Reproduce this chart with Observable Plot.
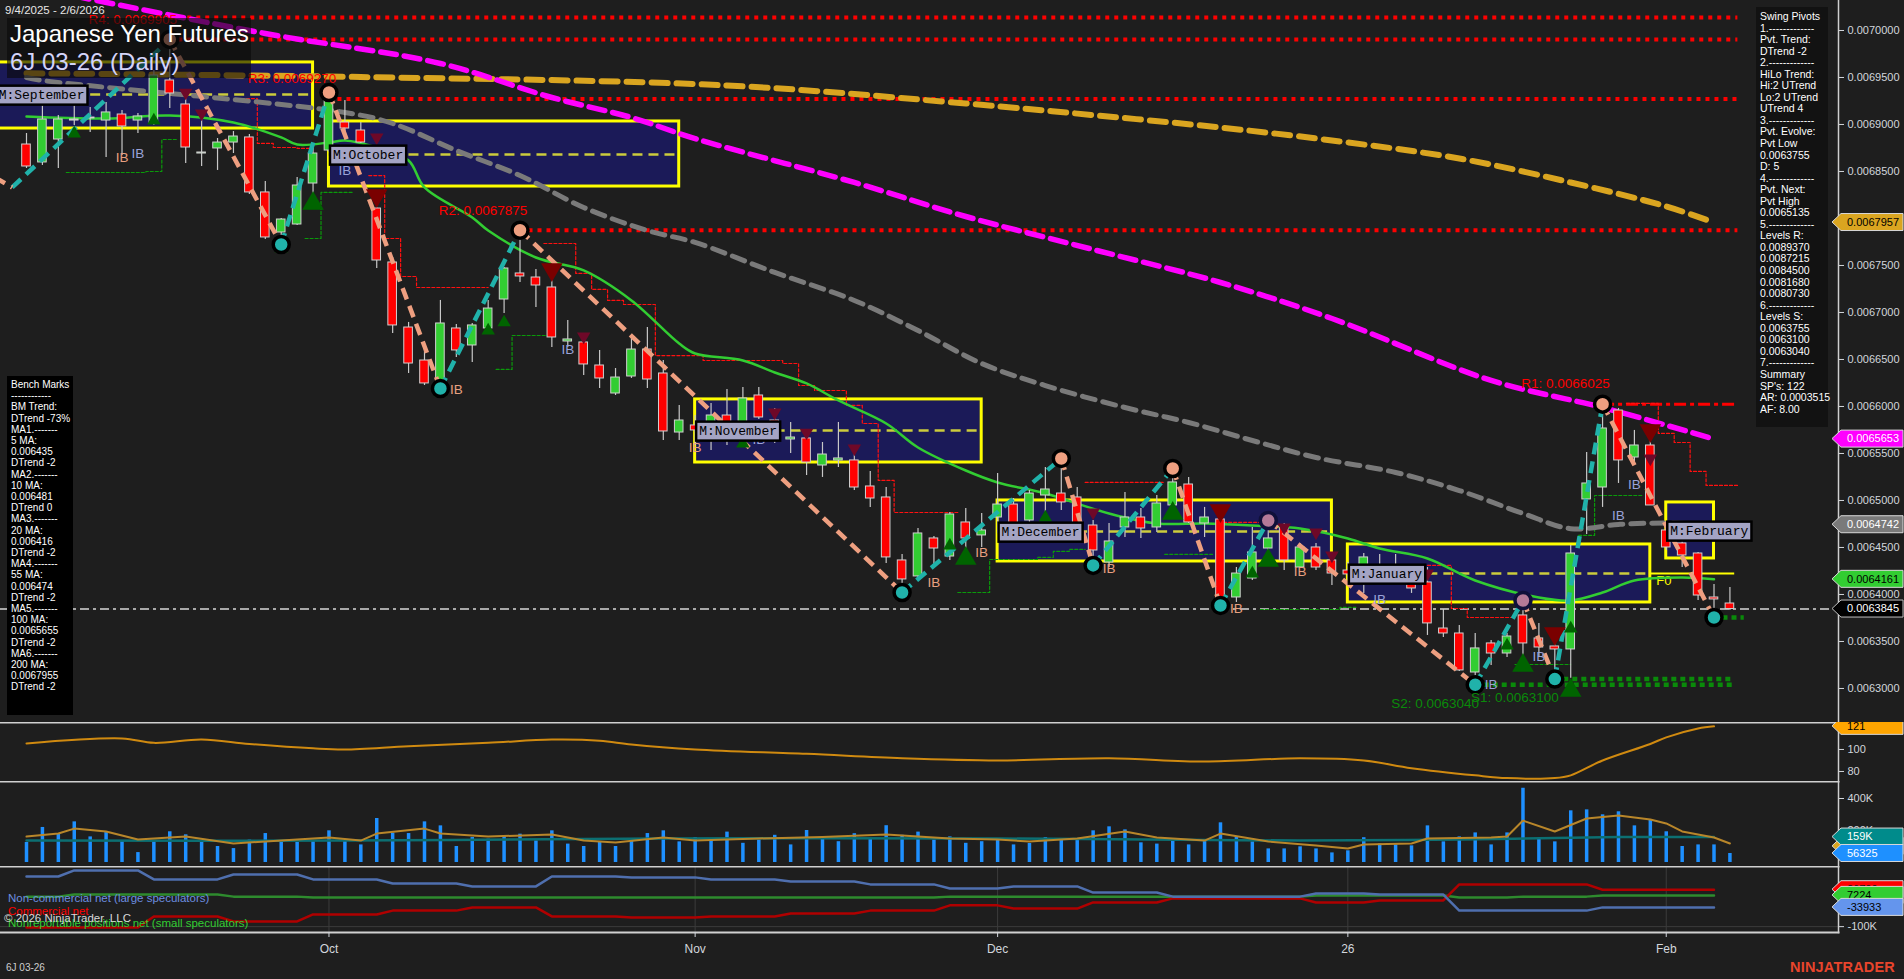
<!DOCTYPE html>
<html>
<head>
<meta charset="utf-8">
<title>Japanese Yen Futures 6J 03-26 (Daily)</title>
<script src="https://cdn.jsdelivr.net/npm/d3@7"></script>
<script src="https://cdn.jsdelivr.net/npm/@observablehq/plot@0.6"></script>
<style>
  html, body { margin:0; padding:0; background:#1e1e1e; }
  #wrap { position:relative; width:1904px; height:979px; overflow:hidden; background:#1e1e1e; font-family: Arial, "Liberation Sans", sans-serif; }
  .panel { position:absolute; left:0; }
  .ovl { position:absolute; white-space:nowrap; }
  #range { left:5px; top:4px; font-size:11.5px; color:#e6e6e6; }
  #titlebox { left:7px; top:18px; width:244px; height:60px; background:rgba(10,10,10,0.62); }
  #t1 { left:10px; top:20px; font-size:24px; color:#ffffff; }
  #t2 { left:10px; top:48px; font-size:24px; color:#d4d4fa; }
  #bench { left:7px; top:376px; width:62px; height:332px; background:#000; color:#fff; font-size:10px; line-height:11.2px; padding:3px 0 4px 4px; white-space:pre; }
  #swing { left:1756px; top:7px; width:68px; height:412px; background:#121212; color:#fff; font-size:10.5px; line-height:11.55px; padding:4px 0 4px 4px; white-space:pre; }
  .leg { font-size:11.5px; line-height:14px; }
  #sym { left:6px; top:962px; font-size:10px; color:#cfcfcf; }
  #logo { left:1790px; top:959px; font-size:14.5px; font-weight:bold; color:#e8452c; letter-spacing:0.2px; }
</style>
</head>
<body>
<div id="wrap"></div>
<script>
// ------------------------------------------------------------------ DATA
const tickIdx = [19, 42, 61, 83, 103];
const tickLabels = ["Oct", "Nov", "Dec", "26", "Feb"];
const priceTicks = [0.0063000, 0.0063500, 0.0064000, 0.0064500, 0.0065000, 0.0065500, 0.0066000, 0.0066500,
                    0.0067000, 0.0067500, 0.0068000, 0.0068500, 0.0069000, 0.0069500, 0.0070000];

const opens = [
 0.0068787,0.0068596,0.0068840,0.0069042,0.0069064,0.0069042,0.0069106,0.0069042,0.0069011,0.0069468,
 0.0069213,0.0068691,0.0068745,0.0068808,0.0068862,0.0068277,0.0067851,0.0067936,0.0068372,0.0068723,
 0.0069021,0.0068936,0.0068106,0.0067532,0.0066840,0.0066489,0.0066277,0.0066830,0.0066649,0.0066830,
 0.0067138,0.0067415,0.0067372,0.0067266,0.0066691,0.0066681,0.0066436,0.0066138,0.0066319,0.0066606,
 0.0066351,0.0065723,0.0065798,0.0065670,0.0065904,0.0065691,0.0066117,0.0065851,0.0065649,0.0065660,
 0.0065372,0.0065426,0.0065426,0.0065149,0.0065032,0.0064362,0.0064192,0.0064596,0.0064404,0.0064766,
 0.0064628,0.0064819,0.0064957,0.0064787,0.0065053,0.0065074,0.0065032,0.0064734,0.0064340,0.0064713,
 0.0064819,0.0064713,0.0064947,0.0065170,0.0064755,0.0064798,0.0063968,0.0064170,0.0064489,0.0064713,
 0.0064287,0.0064500,0.0064362,0.0064255,0.0064149,0.0064309,0.0064277,0.0064170,0.0064128,0.0063638,
 0.0063585,0.0063170,0.0063479,0.0063372,0.0063777,0.0063532,0.0063447,0.0063415,0.0065011,0.0065138,
 0.0065957,0.0065457,0.0065585,0.0064681,0.0064543,0.0064436,0.0063968,0.0063904];
const highs = [
 0.0068904,0.0069308,0.0069096,0.0069234,0.0069181,0.0069234,0.0069149,0.0069117,0.0069574,0.0069905,
 0.0069362,0.0069128,0.0068851,0.0068925,0.0068894,0.0068394,0.0068000,0.0068436,0.0068798,0.0069340,
 0.0069255,0.0069021,0.0068117,0.0067585,0.0066894,0.0066628,0.0067128,0.0066872,0.0066883,0.0067128,
 0.0067479,0.0067875,0.0067457,0.0067372,0.0066915,0.0066776,0.0066596,0.0066404,0.0066734,0.0066840,
 0.0066489,0.0066011,0.0065904,0.0066032,0.0066181,0.0066202,0.0066202,0.0065979,0.0065830,0.0065713,
 0.0065617,0.0065830,0.0065500,0.0065309,0.0065138,0.0064426,0.0064702,0.0064617,0.0064872,0.0064915,
 0.0064862,0.0065287,0.0065021,0.0065106,0.0065351,0.0065447,0.0065138,0.0064787,0.0064755,0.0065085,
 0.0064915,0.0065053,0.0065340,0.0065245,0.0064926,0.0064809,0.0064287,0.0064713,0.0064787,0.0064755,
 0.0064543,0.0064543,0.0064394,0.0064340,0.0064436,0.0064426,0.0064426,0.0064287,0.0064287,0.0063840,
 0.0063670,0.0063585,0.0063511,0.0063585,0.0063936,0.0063692,0.0063479,0.0064521,0.0065511,0.0066025,
 0.0065979,0.0065745,0.0065660,0.0064713,0.0064575,0.0064447,0.0064106,0.0064075];
const lows = [
 0.0068532,0.0068564,0.0068532,0.0068989,0.0068915,0.0068649,0.0068670,0.0068904,0.0068989,0.0069170,
 0.0068585,0.0068553,0.0068511,0.0068691,0.0068255,0.0067777,0.0067723,0.0067925,0.0068245,0.0068702,
 0.0068915,0.0068798,0.0067468,0.0066776,0.0066351,0.0066223,0.0066191,0.0066521,0.0066468,0.0066808,
 0.0066989,0.0067319,0.0067053,0.0066628,0.0066628,0.0066330,0.0066191,0.0066117,0.0066298,0.0066191,
 0.0065638,0.0065638,0.0065585,0.0065532,0.0065585,0.0065564,0.0065862,0.0065606,0.0065500,0.0065266,
 0.0065245,0.0065351,0.0065106,0.0064926,0.0064330,0.0064021,0.0064160,0.0064287,0.0064362,0.0064468,
 0.0064500,0.0064649,0.0064713,0.0064755,0.0064809,0.0064894,0.0064681,0.0064309,0.0064287,0.0064606,
 0.0064596,0.0064660,0.0064926,0.0064755,0.0064606,0.0063883,0.0063915,0.0064149,0.0064436,0.0064255,
 0.0064277,0.0064255,0.0064096,0.0064149,0.0064011,0.0064128,0.0064128,0.0064011,0.0063564,0.0063543,
 0.0063181,0.0063040,0.0063245,0.0063330,0.0063245,0.0063330,0.0063100,0.0063110,0.0064638,0.0064926,
 0.0065181,0.0065372,0.0064947,0.0064468,0.0064287,0.0063936,0.0063755,0.0063830];
const closes = [
 0.0068553,0.0069053,0.0069053,0.0069053,0.0069074,0.0069128,0.0068979,0.0069085,0.0069521,0.0069330,
 0.0068755,0.0068702,0.0068808,0.0068872,0.0068277,0.0067798,0.0067989,0.0068351,0.0068691,0.0069255,
 0.0068957,0.0068808,0.0067553,0.0066862,0.0066457,0.0066245,0.0066883,0.0066596,0.0066862,0.0067042,
 0.0067468,0.0067383,0.0067287,0.0066734,0.0066713,0.0066447,0.0066298,0.0066308,0.0066606,0.0066287,
 0.0065734,0.0065851,0.0065745,0.0065904,0.0065691,0.0066085,0.0065883,0.0065691,0.0065670,0.0065404,
 0.0065489,0.0065447,0.0065138,0.0065021,0.0064394,0.0064160,0.0064649,0.0064489,0.0064851,0.0064596,
 0.0064681,0.0064957,0.0064755,0.0065074,0.0065117,0.0064979,0.0064713,0.0064468,0.0064564,0.0064819,
 0.0064702,0.0064968,0.0065192,0.0064766,0.0064819,0.0063958,0.0064223,0.0064447,0.0064596,0.0064362,
 0.0064500,0.0064287,0.0064223,0.0064213,0.0064394,0.0064160,0.0064149,0.0064064,0.0063692,0.0063585,
 0.0063192,0.0063426,0.0063372,0.0063553,0.0063479,0.0063436,0.0063415,0.0064436,0.0065181,0.0065766,
 0.0065426,0.0065585,0.0064947,0.0064500,0.0064415,0.0063989,0.0063947,0.0063845];
const volumesK = [
 125,219,177,254,160,187,135,62,135,192,
 173,131,100,87,140,181,125,125,135,198,
 135,110,275,183,181,254,229,100,156,146,
 167,177,135,198,115,100,125,100,140,181,
 198,129,156,150,190,120,140,170,110,200,
 160,130,180,150,230,170,190,140,160,120,
 130,150,110,119,156,146,146,198,223,204,
 123,115,146,110,131,248,162,129,85,85,
 98,85,60,73,155,116,110,104,229,129,
 160,185,110,185,464,146,129,323,329,298,
 317,229,265,192,100,110,110,56.325];

// moving averages (bar index, value)
const ma20Idx = [0,5,9,13,16,17,19,20,22,24,25,28,29,32,35,38,41,42,45,47,49,51,54,56,59,61,64,68,71,74,77,80,83,85,88,91,95,97,99,101,104,106];
const ma20Val = [0.0069085,0.0069064,0.0069096,0.0069021,0.0068862,0.0068787,0.0068808,0.0068830,0.0068755,0.0068617,0.0068330,0.0068011,0.0067872,0.0067585,0.0067447,0.0067128,0.0066670,0.0066564,0.0066489,0.0066362,0.0066245,0.0066064,0.0065819,0.0065564,0.0065319,0.0065192,0.0065074,0.0064862,0.0064755,0.0064755,0.0064734,0.0064702,0.0064596,0.0064489,0.0064383,0.0064149,0.0063968,0.0063936,0.0064021,0.0064149,0.0064181,0.0064161];
const ma55Idx = [0,1,20,23,27,31,35,39,42,47,52,56,60,64,69,73,77,81,86,90,94,97,100,103,106];
const ma55Val = [0.0069500,0.0069468,0.0069128,0.0069011,0.0068723,0.0068457,0.0068117,0.0067872,0.0067745,0.0067426,0.0067128,0.0066808,0.0066457,0.0066223,0.0065989,0.0065830,0.0065638,0.0065457,0.0065298,0.0065106,0.0064862,0.0064700,0.0064745,0.0064760,0.0064742];
const ma100Idx = [0,15,26,33,38,42,52,59,67,75,82,92,99,106];
const ma100Val = [0.0070470,0.0069968,0.0069649,0.0069287,0.0069074,0.0068850,0.0068383,0.0068021,0.0067670,0.0067319,0.0066936,0.0066277,0.0065989,0.0065653];
const ma200Idx = [0,21,44,59,67,75,82,90,97,103,106];
const ma200Val = [0.0069545,0.0069505,0.0069415,0.0069223,0.0069100,0.0068968,0.0068830,0.0068638,0.0068383,0.0068128,0.0067957];

// monthly boxes
const boxNames = ["September","October","November","December","January","February"];
const boxStart = [-2, 19, 42, 61, 83, 103];
const boxEnd   = [18, 41, 60, 82, 102, 106];
const boxTop   = [0.0069660, 0.0069032, 0.0066075, 0.0065000, 0.0064532, 0.0064979];
const boxMid   = [0.0069319, 0.0068681, 0.0065745, 0.0064670, 0.0064223, 0.0064681];
const boxBottom= [0.0068957, 0.0068340, 0.0065404, 0.0064351, 0.0063915, 0.0064383];

// swing pivots
const pivIdx   = [-2, -0.9, 9, 16, 19, 26, 31, 55, 65, 67, 72, 75, 78, 91, 94, 96, 99, 106];
const pivPrice = [0.0068440,0.0068330,0.0069905,0.0067723,0.0069340,0.0066191,0.0067875,0.0064021,0.0065447,0.0064309,0.0065340,0.0063883,0.0064787,0.0063040,0.0063936,0.0063100,0.0066025,0.0063755];
const pivKind  = ["","","H","L","H","L","H","L","H","L","H","L","h","L","h","L","H","L"];

// support / resistance levels
const levelLabel = ["", "R4: 0.0069905", "R3: 0.0069270", "R2: 0.0067875", "R1: 0.0066025", "S2: 0.0063040", "S1: 0.0063100", ""];
const levelPrice = [0.0070138, 0.0069905, 0.0069270, 0.0067875, 0.0066025, 0.0063040, 0.0063100, 0.0063755];
const levelStart = [9, 9, 19, 31, 99, 91, 96, 106];
const levelEnd   = [107.5, 107.5, 107.5, 107.5, 107.5, 107.3, 107.3, 107.9];
const levelType  = ["R", "R", "R", "R", "R1", "S", "S", "S"];

// trailing stop steps (segment id, bar boundary, price)
const redStopSeg   = [0,0,0,0,0, 1,1,1,1,1,1,1,1,1,1,1,1,1,1,1, 2,2,2,2,2, 3,3, 4,4, 5,5,5,5, 6,6,6,6,6,6];
const redStopIdx   = [21.5,22.5,23.5,24.5,29, 32.5,34.5,35.5,36.5,37.5,39.5,42.5,47.5,48.5,49.5,51.5,52.5,53.5,54.5,58.5, 13.5,14.5,15.5,17,18, 66.5,71.5, 75.2,77.5, 85.5,89.5,90.5,93.5, 100.5,102.5,103.5,104.5,105.5,107.5];
const redStopPrice = [0.0068457,0.0067787,0.0067383,0.0067266,0.0067266,
                      0.0067734,0.0067415,0.0067245,0.0067128,0.0067085,0.0066542,0.0066489,0.0066457,0.0066223,0.0066170,0.0066011,0.0065819,0.0065213,0.0064872,0.0064872,
                      0.0069276,0.0068798,0.0068755,0.0068745,0.0068745,
                      0.0065192,0.0065192, 0.0064766,0.0064766,
                      0.0064309,0.0063851,0.0063755,0.0063755,
                      0.0066032,0.0065713,0.0065617,0.0065309,0.0065160,0.0065160];
const greenStopSeg   = [0,0,0,0, 1,1,1, 2,2,2, 3,3,3,3,3,3, 4,4, 5,5,5, 6,6, 7,7,7];
const greenStopIdx   = [2.5,7.5,8.5,9.5, 17.5,18.5,20.5, 29.5,30.5,33, 58.5,60.5,63.5,64.5,65.5,66.5, 71.5,74.5, 77.5,82.5,83.5, 93.5,97, 97.5,98.5,101.5];
const greenStopPrice = [0.0068489,0.0068500,0.0068840,0.0068840, 0.0067787,0.0068277,0.0068277, 0.0066394,0.0066755,0.0066755,
                        0.0064021,0.0064372,0.0064394,0.0064458,0.0064479,0.0064479, 0.0064426,0.0064426, 0.0063840,0.0063862,0.0063862,
                        0.0063255,0.0063255, 0.0064628,0.0065053,0.0065053];

const lastPrice = 0.0063845;
const fLine = {start: 102, end: 107.3, price: 0.0064223, label: "F0"};

// signal triangles
const triIdx   = [3,8,16,26,29,30,45,58,64,77,93,97, 18,59,72,78,94,97, 10,11,22,35,47,49,52,67,79,81,82,88,102, 22,33,75,96,102];
const triPrice = [0.0068904,0.0069042,0.0067681,0.0066149,0.0066808,0.0066894,0.0065606,0.0064521,0.0064819,0.0064223,0.0063457,0.0063638,
                  0.0068159,0.0064383,0.0064862,0.0064362,0.0063245,0.0062979,
                  0.0069340,0.0069117,0.0068862,0.0066745,0.0065936,0.0065723,0.0065553,0.0064872,0.0064713,0.0064660,0.0064415,0.0064223,0.0065447,
                  0.0068245,0.0067457,0.0064894,0.0063585,0.0065745];
const triDir   = ["u","u","u","u","u","u","u","u","u","u","u","u", "u","u","u","u","u","u",
                  "d","d","d","d","d","d","d","d","d","d","d","d","d", "d","d","d","d","d"];
const triBig   = [0,0,0,0,0,0,0,0,0,0,0,0, 1,1,1,1,1,1, 0,0,0,0,0,0,0,0,0,0,0,0,0, 1,1,1,1,1];

// inside-bar labels
const ibIdx   = [6, 7, 20, 27, 34, 42, 46, 57, 60, 68, 76, 80, 85, 92, 95, 100, 101];
const ibPrice = [0.0068649,0.0068691,0.0068511,0.0066181,0.0066606,0.0065564,0.0065649,0.0064128,0.0064447,0.0064277,0.0063851,0.0064245,0.0063947,0.0063043,0.0063340,0.0064840,0.0065170];
const ibTone  = ["s","l","l","s","l","s","l","s","s","s","s","s","l","l","l","l","l"];

// lower indicator panel
const indIdx = [0,6,8,11,14,18,20,24,29,33,36,38,42,49,55,61,68,74,80,84,87,91,93,96,97,99,102,103,105,106];
const indVal = [105.5,110,106,109,105,101,100,103,106,109,108,104.5,100,96,92,90,92,89,92,90,83,76.5,74,74,76.5,90,105,111,119,121];

// volume averages (K)
const volMaIdx = [0,2,3,5,7,10,13,16,19,21,22,25,26,29,33,35,37,40,42,46,50,54,58,61,63,66,69,71,74,75,78,81,83,84,87,88,92,93,94,96,98,100,102,103,104,106,107];
const volMaK   = [162,181,212,194,144,162,119,137,156,137,181,212,181,162,175,137,125,156,137,150,160,175,150,144,131,150,194,156,137,181,131,106,87,112,119,150,156,162,262,194,275,294,269,244,194,156,119];
const volAvgIdx = [0, 20, 40, 61, 80, 90, 100, 106];
const volAvgK   = [137, 137, 150, 150, 137, 144, 159, 159];
const volHiddenFlagK = 101;

// COT weekly net positions (K)
const cotStart = [0,3,8,13,18,23,28,33,38,43,48,53,58,62,67,72,77,81,85,90,94,99];
const cotNonComm = [72,93,62,79,62,48,38,72,69,62,55,45,31,38,17,3,3,14,10,-45,-45,-33.933];
const cotComm    = [-103,-103,-65,-82,-58,-45,-34,-65,-69,-65,-55,-45,-27,-38,-17,-3,-3,-17,-10,45,45,26.709];
const cotNonRep  = [3,10,10,3,0,0,0,0,0,0,0,0,3,3,3,3,3,7,7,0,3,7.224];
const cotLastIdx = 106;

// info panels
const benchLines = ["Bench Marks","------------","BM Trend:","DTrend -73%","MA1.-------","5 MA:","0.006435","DTrend -2","MA2.-------","10 MA:","0.006481","DTrend 0","MA3.-------","20 MA:","0.006416","DTrend -2","MA4.-------","55 MA:","0.006474","DTrend -2","MA5.-------","100 MA:","0.0065655","DTrend -2","MA6.-------","200 MA:","0.0067955","DTrend -2"];
const swingLines = ["Swing Pivots","1.-------------","Pvt. Trend:","DTrend -2","2.-------------","HiLo Trend:","Hi:2 UTrend","Lo:2 UTrend","UTrend 4","3.-------------","Pvt. Evolve:","Pvt Low","0.0063755","D: 5","4.-------------","Pvt. Next:","Pvt High","0.0065135","5.-------------","Levels R:","0.0089370","0.0087215","0.0084500","0.0081680","0.0080730","6.-------------","Levels S:","0.0063755","0.0063100","0.0063040","7.-------------","Summary","SP's: 122","AR: 0.0003515","AF: 8.00"];

// ------------------------------------------------------------------ BUILD
const W = 1904, MR = 66;
const xDomain = [-1.633, 113.82];
const fmt7 = d3.format(".7f");
const AXF = 11; // axis / flag font size
const baseStyle = {background:"transparent", color:"#d2d6dc", fontFamily:"Arial, 'Liberation Sans', sans-serif", fontSize:AXF + "px", overflow:"hidden"};

const candles = opens.map((o, i) => ({i, open:o, high:highs[i], low:lows[i], close:closes[i], vol:volumesK[i]*1000}));
const up = candles.filter(d => d.close >= d.open), dn = candles.filter(d => d.close < d.open);
const pts = (idx, val, k = 1) => idx.map((x, j) => ({i:x, v:val[j] * k}));
const boxes = boxNames.map((n, j) => ({name:n, start:boxStart[j], end:boxEnd[j], top:boxTop[j], mid:boxMid[j], bottom:boxBottom[j]}));
const pivots = pivIdx.map((x, j) => ({i:x, v:pivPrice[j], kind:pivKind[j]}));
const legs = pivots.slice(1).map((p, j) => ({x1:pivots[j].i, y1:pivots[j].v, x2:p.i, y2:p.v, up:p.v > pivots[j].v}));
const levels = levelPrice.map((p, j) => ({price:p, label:levelLabel[j], start:levelStart[j], end:levelEnd[j], type:levelType[j]}));
const tris = triIdx.map((x, j) => ({i:x, v:triPrice[j], dir:triDir[j], big:triBig[j]}));
const ibs = ibIdx.map((x, j) => ({i:x, v:ibPrice[j], tone:ibTone[j]}));
const redStops = redStopIdx.map((x, j) => ({i:x, v:redStopPrice[j], seg:redStopSeg[j]}));
const greenStops = greenStopIdx.map((x, j) => ({i:x, v:greenStopPrice[j], seg:greenStopSeg[j]}));

const triMark = (f, fill, r, rot) => Plot.dot(tris.filter(f), {x:"i", y:"v", symbol:"triangle", r, rotate:rot, fill, stroke:"none"});

const main = Plot.plot({
  width:W, height:722, marginLeft:0, marginRight:MR, marginTop:0, marginBottom:0,
  x:{domain:xDomain, label:null}, y:{domain:[0.0062638, 0.0070319], label:null},
  style:baseStyle,
  marks:[
    Plot.rect(boxes, {x1:"start", x2:"end", y1:"bottom", y2:"top", fill:"#1b1a5c", fillOpacity:0.95, stroke:"#ffff00", strokeWidth:3}),
    Plot.ruleY(boxes, {y:"mid", x1:"start", x2:"end", stroke:"#cccc3c", strokeWidth:2.5, strokeDasharray:"10,6"}),
    Plot.ruleY([fLine], {y:"price", x1:"start", x2:"end", stroke:"#ffff00", strokeWidth:2}),
    Plot.text([fLine], {x:"start", y:"price", text:"label", dx:6, dy:7, textAnchor:"start", fill:"#ffff00", fontSize:13}),
    Plot.ruleY(levels.filter(d => d.type === "R"), {y:"price", x1:"start", x2:"end", stroke:"#ff0000", strokeWidth:4, strokeDasharray:"4,5"}),
    Plot.ruleY(levels.filter(d => d.type === "R1"), {y:"price", x1:"start", x2:"end", stroke:"#ff0000", strokeWidth:3, strokeDasharray:"12,4,4,4"}),
    Plot.ruleY(levels.filter(d => d.type === "S"), {y:"price", x1:"start", x2:"end", stroke:"#0a8a0a", strokeWidth:4.5, strokeDasharray:"5,4"}),
    Plot.ruleY([lastPrice], {stroke:"#a8a8a8", strokeWidth:2, strokeDasharray:"9,4,3,4"}),
    Plot.line(redStops, {x:"i", y:"v", z:"seg", curve:"step-after", stroke:"#ff1010", strokeWidth:1.2, strokeDasharray:"3,2"}),
    Plot.line(greenStops, {x:"i", y:"v", z:"seg", curve:"step-after", stroke:"#0a9a0a", strokeWidth:1.2, strokeDasharray:"3,2"}),
    Plot.line(pts(ma200Idx, ma200Val), {x:"i", y:"v", stroke:"#daa520", strokeWidth:6, strokeDasharray:"16,9", curve:"catmull-rom"}),
    Plot.line(pts(ma100Idx, ma100Val), {x:"i", y:"v", stroke:"#ff00ff", strokeWidth:5.5, strokeDasharray:"16,8", curve:"catmull-rom"}),
    Plot.line(pts(ma55Idx, ma55Val), {x:"i", y:"v", stroke:"#7a7a7a", strokeWidth:5, strokeDasharray:"13,8", curve:"catmull-rom"}),
    Plot.line(pts(ma20Idx, ma20Val), {x:"i", y:"v", stroke:"#32cd32", strokeWidth:2.5, curve:"catmull-rom"}),
    Plot.ruleX(candles, {x:"i", y1:"low", y2:"high", stroke:"#c8c8c8", strokeWidth:1.2}),
    Plot.rect(up, {x1:d => d.i - 0.27, x2:d => d.i + 0.27, y1:"open", y2:"close", fill:"#32cd32", stroke:"#d0d0d0", strokeWidth:1}),
    Plot.rect(dn, {x1:d => d.i - 0.27, x2:d => d.i + 0.27, y1:"open", y2:"close", fill:"#ff0000", stroke:"#d0d0d0", strokeWidth:1}),
    Plot.link(legs.filter(d => d.up), {x1:"x1", y1:"y1", x2:"x2", y2:"y2", stroke:"#20b2aa", strokeWidth:4.5, strokeDasharray:"12,7"}),
    Plot.link(legs.filter(d => !d.up), {x1:"x1", y1:"y1", x2:"x2", y2:"y2", stroke:"#ee9f80", strokeWidth:4.5, strokeDasharray:"12,7"}),
    triMark(d => d.dir === "u" && !d.big, "#006400", 5, 0),
    triMark(d => d.dir === "u" && d.big, "#006400", 8, 0),
    triMark(d => d.dir === "d" && !d.big, "#6e0828", 5, 180),
    triMark(d => d.dir === "d" && d.big, "#7a0000", 8, 180),
    Plot.dot(pivots.filter(d => d.kind === "H"), {x:"i", y:"v", r:8, fill:"#ee9f80", stroke:"#000", strokeWidth:3.5}),
    Plot.dot(pivots.filter(d => d.kind === "L"), {x:"i", y:"v", r:8, fill:"#20b2aa", stroke:"#000", strokeWidth:3.5}),
    Plot.dot(pivots.filter(d => d.kind === "h"), {x:"i", y:"v", r:8, fill:"#b47a98", stroke:"#10103a", strokeWidth:3.5}),
    Plot.text(ibs.filter(d => d.tone === "s"), {x:"i", y:"v", text:() => "IB", fill:"#e8a080", fontSize:13.5}),
    Plot.text(ibs.filter(d => d.tone === "l"), {x:"i", y:"v", text:() => "IB", fill:"#9aa2d8", fontSize:13.5}),
    Plot.text(levels.filter(d => d.label && d.type !== "S"), {x:"start", y:"price", text:"label", dx:-37, dy:-20, fill:"#ff0000", fontSize:13.5}),
    Plot.text(levels.filter(d => d.label && d.type === "S"), {x:"start", y:"price", text:"label", dx:-40, dy:19, fill:"#0a8a0a", fontSize:13.5}),
    Plot.text(boxes, {x:"start", y:"mid", text:d => "M:" + d.name, textAnchor:"start", dx:4, fill:"#000", fontFamily:"'Liberation Mono','DejaVu Sans Mono',monospace", fontSize:13}),
    Plot.axisY({anchor:"right", ticks:priceTicks, tickFormat:fmt7, tickSize:5, tickPadding:4, label:null}),
    Plot.frame({anchor:"right", stroke:"#cfcfcf", strokeWidth:1.5})
  ]
});

const ind = Plot.plot({
  width:W, height:59, marginLeft:0, marginRight:MR, marginTop:0, marginBottom:0,
  x:{domain:xDomain, label:null}, y:{domain:[70.9, 124.5], label:null},
  style:baseStyle,
  marks:[
    Plot.frame({anchor:"top", stroke:"#d0d0d0", strokeWidth:2}),
    Plot.line(pts(indIdx, indVal), {x:"i", y:"v", stroke:"#d08a10", strokeWidth:2, curve:"catmull-rom"}),
    Plot.axisY({anchor:"right", ticks:[80, 100], tickSize:5, tickPadding:4, label:null}),
    Plot.frame({anchor:"right", stroke:"#cfcfcf", strokeWidth:1.5})
  ]
});

const vol = Plot.plot({
  width:W, height:85, marginLeft:0, marginRight:MR, marginTop:0, marginBottom:0,
  x:{domain:xDomain, label:null}, y:{domain:[-25000, 506250], label:null},
  style:baseStyle,
  marks:[
    Plot.frame({anchor:"top", stroke:"#d0d0d0", strokeWidth:2}),
    Plot.ruleX(candles, {x:"i", y1:0, y2:"vol", stroke:"#1e90ff", strokeWidth:3.5}),
    Plot.line(pts(volAvgIdx, volAvgK, 1000), {x:"i", y:"v", stroke:"#0c6f72", strokeWidth:2.5, curve:"catmull-rom"}),
    Plot.line(pts(volMaIdx, volMaK, 1000), {x:"i", y:"v", stroke:"#b8862a", strokeWidth:2, curve:"linear"}),
    Plot.axisY({anchor:"right", ticks:[200000, 400000], tickFormat:d => d / 1000 + "K", tickSize:5, tickPadding:4, label:null}),
    Plot.frame({anchor:"right", stroke:"#cfcfcf", strokeWidth:1.5})
  ]
});

// COT step lines
const cotSeries = (vals) => {
  const out = [];
  cotStart.forEach((s, j) => {
    const e = j + 1 < cotStart.length ? cotStart[j + 1] - 1 : cotLastIdx;
    out.push({i:s, v:vals[j] * 1000}, {i:e, v:vals[j] * 1000});
  });
  return out;
};
const cot = Plot.plot({
  width:W, height:66 + 47, marginLeft:0, marginRight:MR, marginTop:0, marginBottom:47,
  x:{domain:xDomain, label:null}, y:{domain:[-120050, 106330], label:null},
  style:baseStyle,
  marks:[
    Plot.gridX(tickIdx, {stroke:"#3c3c3c", strokeOpacity:1}),
    Plot.ruleY([-100000], {stroke:"#3c3c3c"}),
    Plot.line(cotSeries(cotNonRep), {x:"i", y:"v", stroke:"#2e8b2e", strokeWidth:2.5}),
    Plot.line(cotSeries(cotComm), {x:"i", y:"v", stroke:"#b00000", strokeWidth:2.5}),
    Plot.line(cotSeries(cotNonComm), {x:"i", y:"v", stroke:"#4f6fae", strokeWidth:2.5}),
    Plot.frame({anchor:"top", stroke:"#d0d0d0", strokeWidth:2}),
    Plot.frame({anchor:"bottom", stroke:"#d0d0d0", strokeWidth:2}),
    Plot.axisY({anchor:"right", ticks:[-100000], tickFormat:d => d / 1000 + "K", tickSize:5, tickPadding:4, label:null}),
    Plot.axisX({anchor:"bottom", ticks:tickIdx, tickFormat:d => tickLabels[tickIdx.indexOf(d)], tickSize:5, tickPadding:7, fontSize:12, label:null}),
    Plot.frame({anchor:"right", stroke:"#cfcfcf", strokeWidth:1.5})
  ]
});

// ------------------------------------------------------------------ LAYOUT
const wrap = document.getElementById("wrap");
const place = (svg, top) => { const d = document.createElement("div"); d.className = "panel"; d.style.top = top + "px"; d.appendChild(svg); wrap.appendChild(d); };
place(main, 0); place(ind, 722); place(vol, 781); place(cot, 866);

// label backgrounds for month boxes
main.querySelectorAll("text").forEach(t => {
  if (!t.textContent.startsWith("M:")) return;
  const b = t.getBBox();
  const r = document.createElementNS("http://www.w3.org/2000/svg", "rect");
  r.setAttribute("x", b.x - 3); r.setAttribute("y", b.y - 2);
  r.setAttribute("width", b.width + 6); r.setAttribute("height", b.height + 4);
  r.setAttribute("fill", "#a4a4c4"); r.setAttribute("stroke", "#000"); r.setAttribute("stroke-width", 2.5);
  const tr = t.getAttribute("transform"); if (tr) r.setAttribute("transform", tr);
  t.parentNode.insertBefore(r, t);
});

// price flags on the right axes
function flag(svg, value, text, fill, color, border) {
  const y = svg.scale("y").apply(value);
  const g = d3.select(svg).append("g").attr("text-anchor", "start");
  const h = 17, x0 = W - MR - 6, x1 = W - 1;
  g.append("path").attr("d", `M${x0},${y}L${x0 + 9},${y - h / 2}L${x1},${y - h / 2}L${x1},${y + h / 2}L${x0 + 9},${y + h / 2}Z`)
    .attr("fill", fill).attr("stroke", border || "#d8d8d8").attr("stroke-width", 1);
  g.append("text").attr("x", W - MR + 9).attr("y", y).attr("dy", "0.35em").attr("fill", color).attr("text-anchor", "start")
    .attr("font-size", AXF).attr("font-family", "Arial, 'Liberation Sans', sans-serif").text(text);
}
flag(main, ma200Val[ma200Val.length - 1], fmt7(ma200Val[ma200Val.length - 1]), "#daa520", "#000");
flag(main, ma100Val[ma100Val.length - 1], fmt7(ma100Val[ma100Val.length - 1]), "#ff00ff", "#fff");
flag(main, ma55Val[ma55Val.length - 1], fmt7(ma55Val[ma55Val.length - 1]), "#7a7a7a", "#fff");
flag(main, ma20Val[ma20Val.length - 1], fmt7(ma20Val[ma20Val.length - 1]), "#32cd32", "#000");
flag(main, lastPrice, fmt7(lastPrice), "#000000", "#fff", "#bdbdbd");
flag(ind, indVal[indVal.length - 1], String(indVal[indVal.length - 1]), "#ffa500", "#000");
flag(vol, volHiddenFlagK * 1000, volHiddenFlagK + "K", "#daa520", "#000");
flag(vol, volAvgK[volAvgK.length - 1] * 1000, volAvgK[volAvgK.length - 1] + "K", "#008b8b", "#fff");
flag(vol, volumesK[volumesK.length - 1] * 1000, String(Math.round(volumesK[volumesK.length - 1] * 1000)), "#1e90ff", "#fff");
flag(cot, cotComm[cotComm.length - 1] * 1000, String(Math.round(cotComm[cotComm.length - 1] * 1000)), "#ff0000", "#000");
flag(cot, cotNonRep[cotNonRep.length - 1] * 1000, String(Math.round(cotNonRep[cotNonRep.length - 1] * 1000)), "#32cd32", "#000");
flag(cot, cotNonComm[cotNonComm.length - 1] * 1000, String(Math.round(cotNonComm[cotNonComm.length - 1] * 1000)), "#6495ed", "#000");

// HTML overlays
function ovl(id, cls, txt, style) {
  const d = document.createElement("div");
  if (id) d.id = id;
  d.className = "ovl " + (cls || "");
  d.textContent = txt;
  if (style) Object.assign(d.style, style);
  wrap.appendChild(d);
  return d;
}
ovl("range", "", "9/4/2025 - 2/6/2026");
ovl("titlebox", "", "");
ovl("t1", "", "Japanese Yen Futures");
ovl("t2", "", "6J 03-26 (Daily)");
ovl("bench", "", benchLines.join("\n"));
ovl("swing", "", swingLines.join("\n"));
ovl(null, "leg", "Non-commercial net (large speculators)", {left:"8px", top:"891px", color:"#6d8fe0"});
ovl(null, "leg", "Commercial net", {left:"8px", top:"904px", color:"#ff0000"});
ovl(null, "leg", "Nonreportable positions net (small speculators)", {left:"8px", top:"916px", color:"#32cd32"});
ovl(null, "leg", "\u00a9 2026 NinjaTrader, LLC", {left:"4px", top:"911px", color:"#d8d8d8"});
ovl("sym", "", "6J 03-26");
ovl("logo", "", "NINJATRADER");
</script>
</body>
</html>
